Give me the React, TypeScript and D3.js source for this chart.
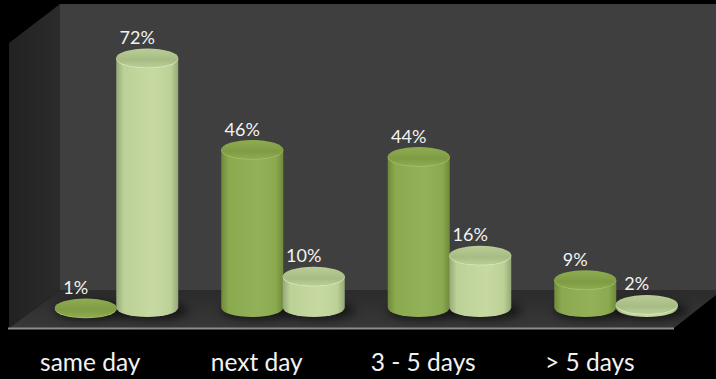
import React from "react";
import * as d3 from "d3";

const categories = ["same day", "next day", "3 - 5 days", "> 5 days"];
const firstSeries = [1, 46, 44, 9];
const secondSeries = [72, 10, 16, 2];
const seriesNames = ["first", "second"];

const W = 716;
const H = 379;
const RX = 31;
const RY = 9.5;
const BASE_Y = 307.5;

const y = d3.scaleLinear().domain([0, 72]).range([311.5, 58]);
const group = d3.scaleBand<string>().domain(categories).range([33, 699]);
const inner = d3.scaleBand<string>().domain(seriesNames).range([22, 145]);

type Palette = { edge: string; mid: string; high: string; topA: string; topB: string; rim: string };
const palettes: Palette[] = [
  { edge: "#6f8a3a", mid: "#8ba94f", high: "#93b158", topA: "#7f9c45", topB: "#8eac4f", rim: "#a5c068" },
  { edge: "#94a878", mid: "#bcd196", high: "#c6d9a2", topA: "#a7bc84", topB: "#bacd97", rim: "#dbe8bd" },
];

function Cylinder({ cx, value, p, id }: { cx: number; value: number; p: Palette; id: number }) {
  const top = y(value);
  const body = `M${cx - RX},${top} L${cx - RX},${BASE_Y} A${RX},${RY} 0 0 0 ${cx + RX},${BASE_Y} L${cx + RX},${top} Z`;
  return (
    <g>
      <path d={body} fill={`url(#side${id})`} />
      <ellipse cx={cx} cy={top + 0.8} rx={RX} ry={RY} fill={p.rim} />
      <ellipse cx={cx} cy={top} rx={RX} ry={RY} fill={`url(#cap${id})`} />
    </g>
  );
}

function Gradients() {
  return (
    <>
      {palettes.map((p, i) => (
        <React.Fragment key={i}>
          <linearGradient id={`side${i}`} x1="0" x2="1" y1="0" y2="0">
            <stop offset="0" stopColor={p.edge} />
            <stop offset="0.12" stopColor={p.mid} />
            <stop offset="0.6" stopColor={p.high} />
            <stop offset="0.88" stopColor={p.mid} />
            <stop offset="1" stopColor={p.edge} />
          </linearGradient>
          <linearGradient id={`cap${i}`} x1="0" x2="0" y1="0" y2="1">
            <stop offset="0" stopColor={p.topB} />
            <stop offset="0.6" stopColor={p.topA} />
            <stop offset="1" stopColor={p.topB} />
          </linearGradient>
        </React.Fragment>
      ))}
      <linearGradient id="leftWall" x1="0" x2="1" y1="0" y2="0">
        <stop offset="0" stopColor="#222222" />
        <stop offset="1" stopColor="#2b2b2b" />
      </linearGradient>
      <linearGradient id="floor" x1="0" x2="0" y1="0" y2="1">
        <stop offset="0" stopColor="#2b2b2b" />
        <stop offset="1" stopColor="#383838" />
      </linearGradient>
      <filter id="soft" x="-30%" y="-80%" width="160%" height="260%">
        <feGaussianBlur stdDeviation="5" />
      </filter>
    </>
  );
}

export default function App() {
  const series = [firstSeries, secondSeries];
  return (
    <svg
      width={W}
      height={H}
      viewBox={`0 0 ${W} ${H}`}
      style={{ position: "fixed", left: 0, top: 0, background: "#000" }}
    >
      <defs>
        <Gradients />
      </defs>

      {/* Chart box: back wall, side wall and floor */}
      <rect x={60} y={4} width={656} height={287} fill="#3f3f3f" />
      <path d="M9,43 L60,4 L60,290 L9,328 Z" fill="url(#leftWall)" />
      <path d="M60,290 L716,290 L716,295 L674,328 L9,328 Z" fill="url(#floor)" />
      <path d="M8,328.5 L674,328.5" stroke="#8c8c8c" strokeWidth={2} />

      {/* Contact shadows on the floor */}
      {categories.map((c) => (
        <g key={c}>
          {seriesNames.map((s) => (
            <ellipse
              key={s}
              cx={(group(c) ?? 0) + (inner(s) ?? 0) + inner.bandwidth() / 2 + 5}
              cy={BASE_Y + 3}
              rx={RX + 5}
              ry={RY}
              fill="#000"
              opacity={0.55}
              filter="url(#soft)"
            />
          ))}
        </g>
      ))}

      {/* Cylinders, back series painted first */}
      {categories.map((c, i) => (
        <g key={c}>
          {seriesNames.map((s, j) => (
            <Cylinder
              key={s}
              cx={(group(c) ?? 0) + (inner(s) ?? 0) + inner.bandwidth() / 2}
              value={series[j][i]}
              p={palettes[j]}
              id={j}
            />
          ))}
        </g>
      ))}

      {/* Value labels */}
      <g fontFamily="Lato, 'Open Sans', sans-serif" fontSize={18} fill="#f2f2f2" textAnchor="middle">
        {categories.map((c, i) =>
          seriesNames.map((s, j) => (
            <text
              key={c + s}
              x={(group(c) ?? 0) + (inner(s) ?? 0) + inner.bandwidth() / 2 - 10}
              y={y(series[j][i]) - RY - 4.5}
            >
              {series[j][i]}%
            </text>
          ))
        )}
      </g>

      {/* Category labels */}
      <g fontFamily="Lato, 'Open Sans', sans-serif" fontSize={24.5} fill="#f2f2f2" textAnchor="middle">
        {categories.map((c) => (
          <text key={c} x={(group(c) ?? 0) + group.bandwidth() / 2 - 26} y={371}>
            {c}
          </text>
        ))}
      </g>
    </svg>
  );
}
